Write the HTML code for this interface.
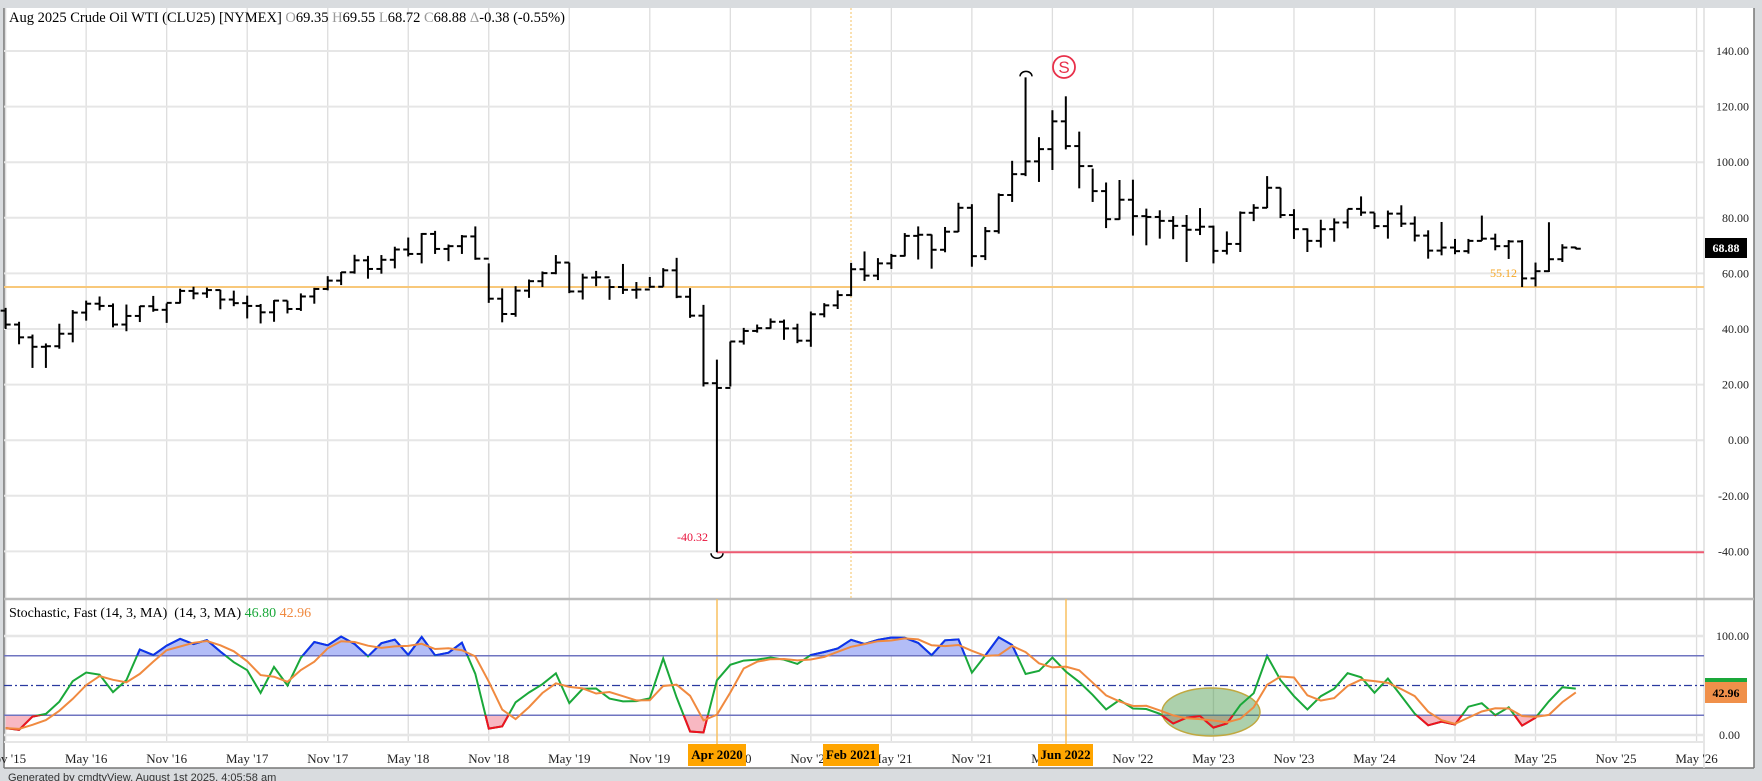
<!DOCTYPE html>
<html><head><meta charset="utf-8"><style>
html,body{margin:0;padding:0;background:#d9dcdf;}
svg{display:block;font-family:"Liberation Serif",serif;}
</style></head><body>
<svg id="c" width="1762" height="781" xmlns="http://www.w3.org/2000/svg"></svg>
<script>
const D=[
[92,79,80.5],[82,65.7,66],[67,52.4,53.3],[53.6,43.6,48.2],[54.2,43.9,49.8],[52.5,42,47.6],[59.9,46.7,59.6],[62.6,56.5,60.3],[62,57.4,59.5],[59.7,46.7,47.1],[49.3,37.8,49.2],[49.2,43.2,45.1],[50.9,43.2,46.6],
[47.6,40,41.6],[42.6,34.5,37],[38,26,33.6],[34.8,26,33.8],[41.9,32.9,38.3],[46.8,35.2,45.9],[50.2,43,49.1],[51.7,46.7,48.3],[49.2,40.6,41.6],[48.8,39.2,44.7],[48.3,42.5,48.2],[51.9,46.2,46.9],[49.2,42.2,49.4],[54.5,49.2,53.7],
[55.2,50.7,52.8],[54.9,51.2,54],[54.1,47.1,50.6],[53.8,48.2,49.3],[52,43.8,48.3],[49,42,46],[50.4,42.6,50.2],[50.2,45.6,47.2],[52.8,46.5,51.7],[54.8,49.1,54.4],[59,53.9,57.4],[60.5,55.8,60.4],
[66.7,59.9,64.7],[66.3,58.1,61.6],[66.6,59.9,64.9],[69.6,61.8,68.6],[72.9,66.1,67],[74.5,63.6,74.2],[75.3,67,68.8],[70.4,64.4,69.8],[73.8,67,73.3],[76.9,64.9,65.3],[63.6,49.4,50.9],[54.6,42.4,45.4],
[55.4,44.4,53.8],[57.8,51.2,57.2],[60.7,55.1,60.1],[66.6,59.7,63.9],[63.9,52.9,53.5],[59.9,50.6,58.5],[60.9,55.4,58.6],[57.9,50.5,55.1],[63.4,52.6,54.1],[56.9,50.9,54.2],[58.7,54.8,55.2],[61.9,55.2,61.1],
[65.6,51.1,51.6],[54.7,44,44.8],[48.7,19.3,20.5],[29,-40.32,18.8],[35.5,19.3,35.5],[40.4,34.4,39.3],[41.6,38.7,40.3],[43.8,40.1,42.6],[43.4,36.1,40.2],[41.9,34.9,35.8],[46.3,33.6,45.3],[49.3,44.2,48.5],
[53.9,47.2,52.2],[63.8,51.8,61.5],[67.9,57.3,59.2],[65.5,57.6,63.6],[67,61.6,66.3],[74.5,66.1,73.5],[76.9,65,73.9],[74,61.7,68.5],[76.7,67.6,75],[85.4,74.9,83.6],[84.9,62.4,66.2],[76.7,64.8,75.2],
[88.8,74.3,88.2],[100.5,85.7,95.7],[130.5,95,100.3],[109,92.9,104.7],[118.7,97.2,114.7],[123.7,104.6,105.8],[111,90.6,98.6],[97.7,85.7,89.6],[92.7,76.3,79.5],[93.6,79.3,86.5],[93.7,73.6,80.6],[83.3,70.1,80.3],
[82.7,72.5,78.9],[80.6,72.3,77.1],[81,64.1,75.7],[83.5,73.8,76.8],[77.2,63.6,68.1],[75.1,66.8,70.6],[82.3,67.7,81.8],[84.9,78.8,83.6],[95,83.5,90.8],[90.8,79.9,81],[83.1,72.4,75.9],[76.2,67.7,71.7],
[79.3,69.3,75.9],[79.8,71.4,78.3],[83.1,76.2,83.2],[87.7,80.7,81.9],[81.8,76,77],[82.6,72.5,81.5],[84.5,76.7,77.9],[80.5,71.5,73.6],[75.5,65.3,68.2],[78.5,66.5,69.3],[72.4,66.9,68],[72.4,67.1,71.7],
[80.8,71.7,72.5],[74.3,68.3,69.8],[72,65.2,71.5],[72,55.1,58.2],[63.9,55.3,60.8],[78.4,60.5,65.1],[70.5,64.1,69.3],[69.55,68.72,68.88]];
const T0=-3;
const X=t=>1455+(t-118)*13.42, PY=p=>51+(140-p)*2.78, SY=v=>735-v*0.99;
let s='';
const R=(x,y,w,h,f)=>s+=`<rect x="${x}" y="${y}" width="${w}" height="${h}" fill="${f}"/>`;
const L=(x1,y1,x2,y2,c,w,extra='')=>s+=`<line x1="${x1}" y1="${y1}" x2="${x2}" y2="${y2}" stroke="${c}" stroke-width="${w}" ${extra}/>`;
const Tx=(x,y,t,o='')=>s+=`<text x="${x}" y="${y}" ${o}>${t}</text>`;
R(0,0,1762,781,'#d9dcdf');
R(4,8,1750,760,'#fff');
L(4,8,4,768,'#777',1.5);L(1754,8,1754,768,'#777',1.5);L(4,768,1754,768,'#777',1.5);
for(let t=10;t<=136;t+=6){const x=X(t);L(x,8,x,742,'#ddd',1.3);}
for(let p=-40;p<=140;p+=20)L(4,PY(p),1704,PY(p),'#e6e6e6',2);
L(1704,8,1704,768,'#ddd',1.5);
L(4,599,1754,599,'#bbb',2.5);
[100,0].forEach(v=>L(4,SY(v),1704,SY(v),'#e6e6e6',2.5));L(4,742,1704,742,'#e6e6e6',2);
L(4,PY(55.12),1704,PY(55.12),'#f8c87a',2);
L(717,PY(-40.32),1704,PY(-40.32),'#ee5a72',2);
L(851,8,851,599,'#f5c060',1,'stroke-dasharray="2,2"');
L(717,599,717,744,'#f8c060',1.5);L(1066,599,1066,744,'#f8c060',1.5);
for(let i=13;i<D.length;i++){const t=i+T0,x=X(t),d=D[i],o=i==D.length-1?69.35:D[i-1][2];
L(x,PY(d[0]),x,PY(d[1]),'#000',2);L(x-5,PY(o),x,PY(o),'#000',2);L(x,PY(d[2]),x+5,PY(d[2]),'#000',2);}
s+=`<path d="M711 ${PY(-40.32)+1} a6 5 0 0 0 12 0" fill="none" stroke="#000" stroke-width="1.5"/>`;
s+=`<path d="M1020 ${PY(130.5)-1} a6 5 0 0 1 12 0" fill="none" stroke="#000" stroke-width="1.5"/>`;
s+=`<circle cx="1064" cy="67" r="11" fill="none" stroke="#e8304a" stroke-width="1.8"/>`;
Tx(1064,73,'S','text-anchor="middle" font-family="Liberation Sans,sans-serif" font-size="17" fill="#e8304a"');
Tx(708,541,'-40.32','text-anchor="end" font-size="12" fill="#e8103a"');
Tx(1517,277,'55.12','text-anchor="end" font-size="12" fill="#f5a623"');
const K=[],Dd=[];
for(let i=13;i<D.length;i++){let hh=-1e9,ll=1e9;for(let j=i-13;j<=i;j++){hh=Math.max(hh,D[j][0]);ll=Math.min(ll,D[j][1]);}K[i]=(D[i][2]-ll)/(hh-ll)*100;}
for(let i=15;i<D.length;i++)Dd[i]=(K[i]+K[i-1]+K[i-2])/3;
Dd[13]=K[13];Dd[14]=(K[13]+K[14])/2;
let kp=[],dp=[];for(let i=13;i<D.length;i++){kp.push([X(i+T0),SY(K[i])]);dp.push([X(i+T0),SY(Dd[i])]);}
const pts=a=>a.map(p=>p[0].toFixed(1)+','+p[1].toFixed(1)).join(' ');
const y80=SY(80),y20=SY(20),x0=kp[0][0],x1=kp[kp.length-1][0];
s+=`<defs><clipPath id="ca"><rect x="0" y="0" width="1704" height="${y80}"/></clipPath><clipPath id="cb"><rect x="0" y="${y20}" width="1704" height="100"/></clipPath></defs>`;
s+=`<polygon points="${x0},${y80} ${pts(kp)} ${x1},${y80}" fill="#b3bdf7" clip-path="url(#ca)"/>`;
s+=`<polygon points="${x0},${y20} ${pts(kp)} ${x1},${y20}" fill="#f8b8c2" clip-path="url(#cb)"/>`;
L(4,y80,1704,y80,'#6f74c0',1.5);L(4,y20,1704,y20,'#6f74c0',1.5);
L(4,SY(50),1704,SY(50),'#2a3aa0',1.2,'stroke-dasharray="8,3,2,3"');
s+=`<ellipse cx="1211" cy="712" rx="49" ry="24" fill="rgba(70,150,70,0.45)" stroke="#c0a840" stroke-width="1.5"/>`;
s+=`<polyline points="${pts(kp)}" fill="none" stroke="#1aa83a" stroke-width="2"/>`;
s+=`<polyline points="${pts(kp)}" fill="none" stroke="#1030f0" stroke-width="2" clip-path="url(#ca)"/>`;
s+=`<polyline points="${pts(kp)}" fill="none" stroke="#f01020" stroke-width="2" clip-path="url(#cb)"/>`;
s+=`<polyline points="${pts(dp)}" fill="none" stroke="#f08a40" stroke-width="2"/>`;
Tx(9,22,'Aug 2025 Crude Oil WTI (CLU25) [NYMEX] <tspan fill="#999">O</tspan>69.35 <tspan fill="#999">H</tspan>69.55 <tspan fill="#999">L</tspan>68.72 <tspan fill="#999">C</tspan>68.88 <tspan fill="#999">Δ</tspan>-0.38 (-0.55%)','font-size="14.5" fill="#000"');
Tx(9,617,'Stochastic, Fast (14, 3, MA)  (14, 3, MA) <tspan fill="#1aa83a">46.80</tspan> <tspan fill="#f08a40">42.96</tspan>','font-size="14" fill="#000" xml:space="preserve"');
for(let p=-40;p<=140;p+=20){Tx(1749,PY(p)+4,p.toFixed(2),'text-anchor="end" font-size="12" fill="#222"');}
R(1705,238,42,20,'#000');Tx(1726,252,'68.88','text-anchor="middle" font-size="12" font-weight="bold" fill="#fff"');
Tx(1749,640,'100.00','text-anchor="end" font-size="12" fill="#222"');Tx(1740,739,'0.00','text-anchor="end" font-size="12" fill="#222"');
R(1705,678,42,25,'#1aa83a');R(1705,682,42,21,'#f0904a');Tx(1726,697,'42.96','text-anchor="middle" font-size="12" font-weight="bold" fill="#000"');
for(let t=10;t<=136;t+=6){const y=2015+Math.floor(t/12),m=(t%12==10)?'Nov':'May';Tx(X(t),763,`${m} '${String(y).slice(2)}`,'text-anchor="middle" font-size="13" fill="#222"');}
[[688,58,'Apr 2020'],[823,56,'Feb 2021'],[1038,55,'Jun 2022']].forEach(b=>{R(b[0],744,b[1],22,'#ffa500');Tx(b[0]+b[1]/2,759,b[2],'text-anchor="middle" font-size="13" font-weight="bold" fill="#000"');});
Tx(8,781,'Generated by cmdtyView, August 1st 2025, 4:05:58 am','font-size="11" font-family="Liberation Sans,sans-serif" fill="#333"');
document.getElementById('c').innerHTML=s;
</script>
</body></html>
